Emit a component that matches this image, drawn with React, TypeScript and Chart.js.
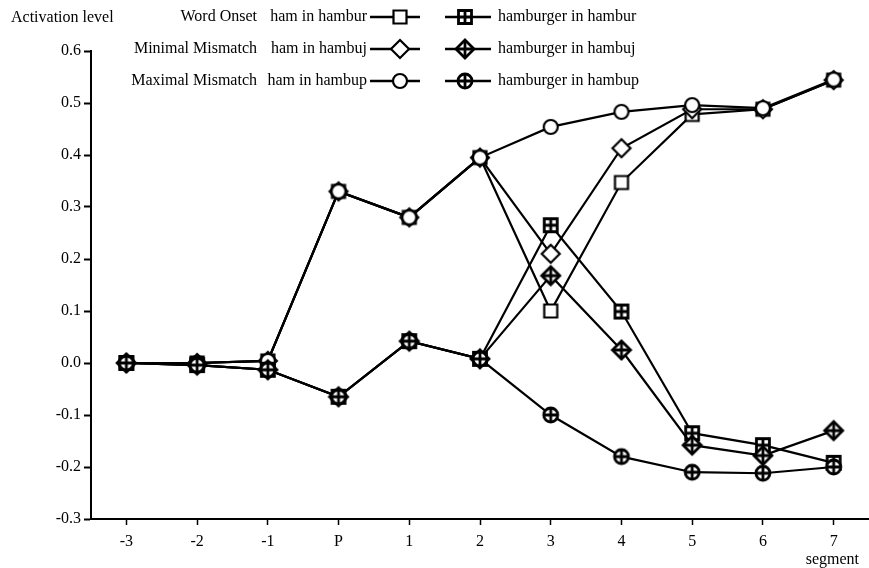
import React, { useEffect, useRef } from 'react';
import { Chart, registerables } from 'chart.js';

Chart.register(...registerables);

const segments = ['-3', '-2', '-1', 'P', '1', '2', '3', '4', '5', '6', '7'];

const hamInHambur = [0, 0, 0.004, 0.33, 0.28, 0.395, 0.1, 0.347, 0.478, 0.488, 0.544];
const hamInHambuj = [0, 0, 0.004, 0.33, 0.28, 0.395, 0.21, 0.413, 0.488, 0.488, 0.544];
const hamInHambup = [0, 0, 0.004, 0.33, 0.28, 0.395, 0.454, 0.483, 0.496, 0.49, 0.545];
const hamburgerInHambur = [0, -0.004, -0.013, -0.065, 0.042, 0.008, 0.265, 0.099, -0.135, -0.158, -0.192];
const hamburgerInHambuj = [0, -0.004, -0.013, -0.065, 0.042, 0.008, 0.168, 0.025, -0.158, -0.178, -0.13];
const hamburgerInHambup = [0, -0.004, -0.013, -0.065, 0.042, 0.008, -0.1, -0.18, -0.21, -0.212, -0.2];

const rowLabels = ['Word Onset', 'Minimal Mismatch', 'Maximal Mismatch'];
const hamLabels = ['ham in hambur', 'ham in hambuj', 'ham in hambup'];
const hamburgerLabels = ['hamburger in hambur', 'hamburger in hambuj', 'hamburger in hambup'];

const FONT = '"Liberation Serif", "Times New Roman", serif';
const FONT_SIZE = 16;

type Shape = 'square' | 'diamond' | 'circle';

function makeMarker(shape: Shape, cross: boolean): HTMLCanvasElement {
  const s = 24;
  const c = document.createElement('canvas');
  c.width = s;
  c.height = s;
  const ctx = c.getContext('2d')!;
  ctx.translate(s / 2, s / 2);
  ctx.lineWidth = cross ? 2.8 : 2.2;
  ctx.strokeStyle = '#000';
  ctx.fillStyle = '#fff';
  const r = shape === 'square' ? 6.5 : shape === 'diamond' ? 9 : 7;
  ctx.beginPath();
  if (shape === 'square') ctx.rect(-r, -r, 2 * r, 2 * r);
  else if (shape === 'diamond') {
    ctx.moveTo(0, -r);
    ctx.lineTo(r, 0);
    ctx.lineTo(0, r);
    ctx.lineTo(-r, 0);
    ctx.closePath();
  } else ctx.arc(0, 0, r, 0, Math.PI * 2);
  ctx.fill();
  ctx.stroke();
  if (cross) {
    ctx.beginPath();
    ctx.moveTo(-r, 0);
    ctx.lineTo(r, 0);
    ctx.moveTo(0, -r);
    ctx.lineTo(0, r);
    ctx.stroke();
  }
  return c;
}

export default function App() {
  const ref = useRef<HTMLCanvasElement | null>(null);

  useEffect(() => {
    document.body.style.margin = '0';
    const canvas = ref.current!;
    const shapes: Shape[] = ['square', 'diamond', 'circle'];
    const open = shapes.map((s) => makeMarker(s, false));
    const crossed = shapes.map((s) => makeMarker(s, true));

    const hamSeries = [hamInHambur, hamInHambuj, hamInHambup];
    const hamburgerSeries = [hamburgerInHambur, hamburgerInHambuj, hamburgerInHambup];

    const datasets: any[] = [];
    for (let i = 0; i < 3; i++) {
      datasets.push({
        label: hamLabels[i],
        data: hamSeries[i],
        borderColor: '#000',
        borderWidth: 2.2,
        pointStyle: open[i],
        pointRadius: 7,
        tension: 0,
        clip: false,
        order: 5 - i,
      });
      datasets.push({
        label: hamburgerLabels[i],
        data: hamburgerSeries[i],
        borderColor: '#000',
        borderWidth: 2.2,
        pointStyle: crossed[i],
        pointRadius: 7,
        tension: 0,
        clip: false,
        order: 2 - i,
      });
    }

    const legendPlugin = {
      id: 'customLegend',
      afterDraw(chart: any) {
        const ctx = chart.ctx as CanvasRenderingContext2D;
        ctx.save();
        ctx.fillStyle = '#000';
        ctx.font = `${FONT_SIZE}px ${FONT}`;
        ctx.textBaseline = 'middle';
        ctx.textAlign = 'left';
        ctx.fillText('Activation level', 11, 18);
        const rowsY = [17, 49, 81];
        for (let i = 0; i < 3; i++) {
          const y = rowsY[i];
          ctx.textAlign = 'right';
          ctx.fillText(rowLabels[i], 257, y);
          ctx.fillText(hamLabels[i], 367, y);
          ctx.textAlign = 'left';
          ctx.fillText(hamburgerLabels[i], 498, y);
          ctx.strokeStyle = '#000';
          ctx.lineWidth = 2.5;
          ctx.beginPath();
          ctx.moveTo(370, y);
          ctx.lineTo(420, y);
          ctx.moveTo(445, y);
          ctx.lineTo(491, y);
          ctx.stroke();
          ctx.drawImage(open[i], 400 - 12, y - 12);
          ctx.drawImage(crossed[i], 465 - 12, y - 12);
        }
        ctx.textAlign = 'right';
        ctx.fillText('segment', 859, 560);
        ctx.restore();
      },
    };

    const chart = new Chart(canvas, {
      type: 'line',
      data: { labels: segments, datasets },
      options: {
        animation: false,
        responsive: false,
        layout: { autoPadding: false, padding: { top: 51, right: 0, left: 0, bottom: 0 } },
        plugins: { legend: { display: false }, tooltip: { enabled: false } },
        scales: {
          x: {
            type: 'category',
            offset: true,
            afterFit: (scale: any) => {
              scale.height = 49;
              scale.paddingLeft = 0;
              scale.paddingRight = 0;
            },
            grid: {
              offset: false,
              drawOnChartArea: false,
              drawTicks: true,
              tickLength: 6,
              tickWidth: 1.5,
              tickColor: '#000',
            },
            border: { display: true, color: '#000', width: 2 },
            ticks: {
              color: '#000',
              font: { family: FONT, size: FONT_SIZE },
              padding: 7,
              maxRotation: 0,
              autoSkip: false,
            },
          },
          y: {
            min: -0.3,
            max: 0.6,
            afterFit: (scale: any) => {
              scale.width = 91;
              scale.paddingTop = 0;
              scale.paddingBottom = 0;
            },
            grid: {
              drawOnChartArea: false,
              drawTicks: true,
              tickLength: 7,
              tickWidth: 2,
              tickColor: '#000',
            },
            border: { display: true, color: '#000', width: 2 },
            ticks: {
              stepSize: 0.1,
              color: '#000',
              font: { family: FONT, size: FONT_SIZE },
              padding: 3,
              callback: (v: any) => Number(v).toFixed(1),
            },
          },
        },
      },
      plugins: [legendPlugin],
    });

    return () => chart.destroy();
  }, []);

  return <canvas ref={ref} width={869} height={568} style={{ display: 'block' }} />;
}
